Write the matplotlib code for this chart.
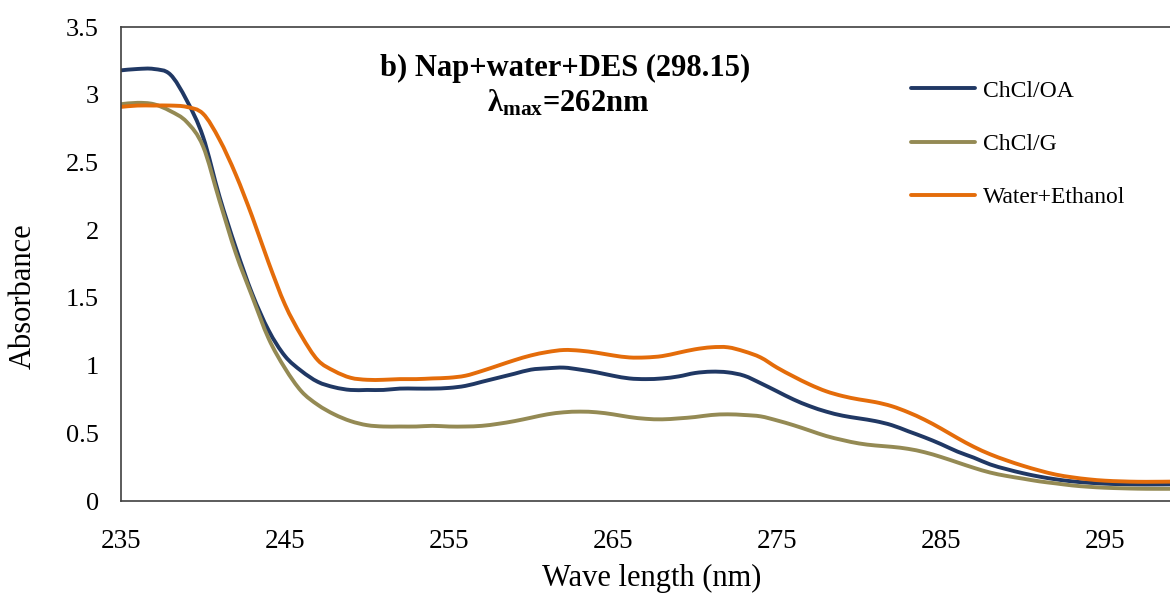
import numpy as np
import matplotlib
matplotlib.use("Agg")
import matplotlib.pyplot as plt
from matplotlib.path import Path
from matplotlib.patches import PathPatch
from matplotlib.lines import Line2D

plt.rcParams['font.family'] = ['Liberation Serif', 'DejaVu Serif']
plt.rcParams['mathtext.fontset'] = 'custom'
plt.rcParams['mathtext.rm'] = 'Liberation Serif'
plt.rcParams['mathtext.bf'] = 'Liberation Serif:bold'
plt.rcParams['mathtext.it'] = 'Liberation Serif:italic'

wavelength = list(range(235, 301))

chcl_oa = [3.18, 3.19, 3.19, 3.15, 2.96, 2.69, 2.25, 1.87, 1.53, 1.26,
           1.07, 0.96, 0.88, 0.84, 0.82, 0.82, 0.82, 0.83, 0.83, 0.83,
           0.835, 0.85, 0.88, 0.91, 0.94, 0.97, 0.98, 0.985, 0.97, 0.95,
           0.925, 0.905, 0.90, 0.905, 0.92, 0.945, 0.955, 0.95, 0.925, 0.87,
           0.81, 0.75, 0.70, 0.66, 0.63, 0.61, 0.59, 0.56, 0.515, 0.47,
           0.42, 0.365, 0.32, 0.27, 0.235, 0.205, 0.18, 0.16, 0.145, 0.135,
           0.128, 0.124, 0.122, 0.122, 0.123, 0.125]

chcl_g = [2.93, 2.94, 2.93, 2.88, 2.80, 2.62, 2.22, 1.83, 1.51, 1.20,
          0.98, 0.81, 0.71, 0.64, 0.59, 0.56, 0.55, 0.55, 0.55, 0.555,
          0.55, 0.55, 0.555, 0.57, 0.59, 0.615, 0.64, 0.655, 0.66, 0.655,
          0.64, 0.62, 0.607, 0.603, 0.61, 0.62, 0.635, 0.64, 0.635, 0.625,
          0.595, 0.56, 0.52, 0.48, 0.45, 0.425, 0.41, 0.40, 0.385, 0.36,
          0.325, 0.285, 0.245, 0.21, 0.185, 0.165, 0.145, 0.13, 0.115, 0.105,
          0.098, 0.094, 0.091, 0.09, 0.09, 0.09]

water_ethanol = [2.91, 2.92, 2.92, 2.92, 2.91, 2.86, 2.67, 2.41, 2.10, 1.76,
                 1.45, 1.22, 1.04, 0.96, 0.91, 0.895, 0.895, 0.90, 0.90, 0.905,
                 0.91, 0.925, 0.96, 1.00, 1.04, 1.075, 1.10, 1.115, 1.11, 1.095,
                 1.075, 1.06, 1.06, 1.07, 1.095, 1.12, 1.135, 1.135, 1.105, 1.06,
                 0.985, 0.92, 0.86, 0.81, 0.775, 0.75, 0.73, 0.70, 0.655, 0.60,
                 0.535, 0.465, 0.40, 0.345, 0.30, 0.26, 0.225, 0.195, 0.175, 0.16,
                 0.15, 0.145, 0.142, 0.142, 0.143, 0.145]

series_labels = ["ChCl/OA", "ChCl/G", "Water+Ethanol"]
series_colors = ["#203864", "#948A54", "#E46C0A"]
x_ticks = [235, 245, 255, 265, 275, 285, 295]
y_ticks = [0, 0.5, 1, 1.5, 2, 2.5, 3, 3.5]
y_ticklabels = ["0", "0.5", "1", "1.5", "2", "2.5", "3", "3.5"]


def smooth_path(xs, ys):
    """Excel-like smoothed line: Bezier segments through the data points."""
    x = np.asarray(xs, float)
    y = np.asarray(ys, float)
    n = len(x)
    verts = [(x[0], y[0])]
    codes = [Path.MOVETO]
    for i in range(n - 1):
        x0, y0 = (x[i - 1], y[i - 1]) if i > 0 else (x[i], y[i])
        x3, y3 = (x[i + 2], y[i + 2]) if i + 2 < n else (x[i + 1], y[i + 1])
        c1 = (x[i] + (x[i + 1] - x0) / 6, y[i] + (y[i + 1] - y0) / 6)
        c2 = (x[i + 1] - (x3 - x[i]) / 6, y[i + 1] - (y3 - y[i]) / 6)
        verts += [c1, c2, (x[i + 1], y[i + 1])]
        codes += [Path.CURVE4] * 3
    return Path(verts, codes)


W, H = 1170, 596
fig = plt.figure(figsize=(W / 100, H / 100), dpi=100)
ax = fig.add_axes([121 / W, 1 - 501 / H, (1187 - 121) / W, (501 - 27) / H])

lw = 2.8
handles = []
for ys, lab, col in zip([chcl_oa, chcl_g, water_ethanol], series_labels, series_colors):
    patch = PathPatch(smooth_path(wavelength, ys), fill=False, edgecolor=col,
                      lw=lw, joinstyle='round', capstyle='butt')
    ax.add_patch(patch)
    handles.append(Line2D([], [], color=col, lw=lw, solid_capstyle='round', label=lab))

ax.set_xlim(235, 300)
ax.set_ylim(0, 3.5)
ax.set_xticks(x_ticks)
ax.set_xticklabels([str(t) for t in x_ticks], fontsize=19.5)
ax.set_yticks(y_ticks)
ax.set_yticklabels(y_ticklabels, fontsize=19)
ax.tick_params(axis='both', length=0)
ax.tick_params(axis='x', pad=20)
ax.tick_params(axis='y', pad=16)
for side in ['left', 'bottom', 'top']:
    ax.spines[side].set_color('#404040')
    ax.spines[side].set_linewidth(1.2)
ax.spines['right'].set_visible(False)

fig.text(23 / W, 1 - 296 / H, "Absorbance", rotation=90, fontsize=22,
         ha='center', va='center')
fig.text(652 / W, 1 - 578 / H, "Wave length (nm)", fontsize=22,
         ha='center', va='center')

fig.text(565 / W, 1 - 68 / H, "b) Nap+water+DES (298.15)", fontsize=22,
         fontweight='bold', ha='center', va='center')
fig.text(568 / W, 1 - 103 / H, r"$\mathbf{λ_{max}}$=262nm", fontsize=22,
         fontweight='bold', ha='center', va='center')

leg = fig.legend(handles=handles, loc='upper left',
                 bbox_to_anchor=(911 / W, 1 - 80 / H),
                 frameon=False, fontsize=17, handlelength=2.7,
                 handletextpad=0.35, labelspacing=1.35, borderpad=0,
                 borderaxespad=0)

fig.savefig("out.png", dpi=100)
